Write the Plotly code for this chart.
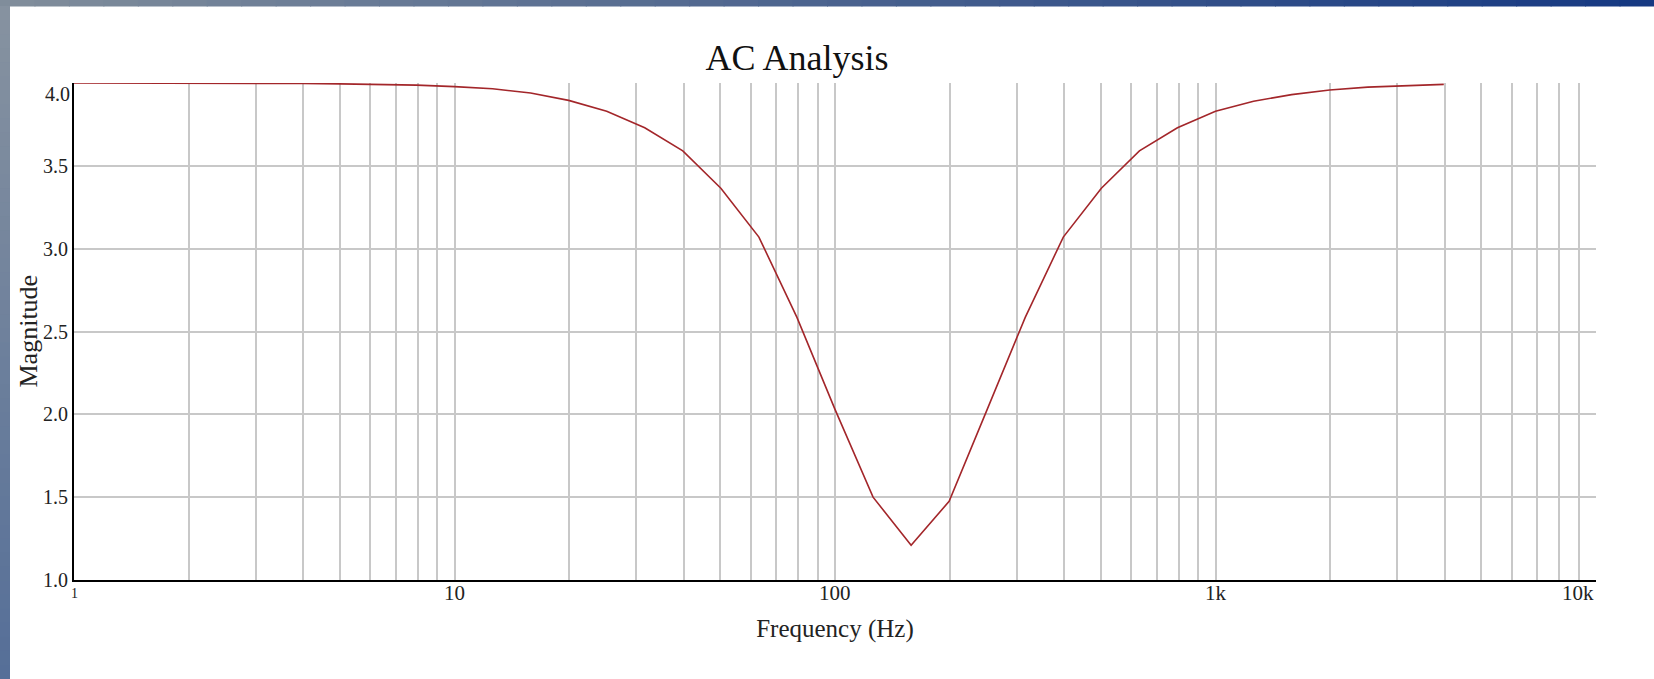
import math
import plotly.graph_objects as go

# ---------------- data ----------------
freq_hz = [1, 1.259, 1.585, 1.995, 2.512, 3.162, 3.981, 5.012, 6.310, 7.943,
           10, 12.59, 15.85, 19.95, 25.12, 31.62, 39.81, 50.12, 63.10, 79.43,
           100, 125.9, 158.5, 199.5, 251.2, 316.2, 398.1, 501.2, 631.0, 794.3,
           1000, 1259, 1585, 1995, 2512, 3162, 3981]
magnitude = [4.000, 4.000, 4.000, 3.999, 3.999, 3.998, 3.997, 3.995, 3.992, 3.987,
             3.978, 3.965, 3.940, 3.895, 3.830, 3.730, 3.590, 3.365, 3.070, 2.585,
             2.030, 1.500, 1.210, 1.475, 2.030, 2.585, 3.070, 3.365, 3.590, 3.730,
             3.830, 3.890, 3.930, 3.958, 3.975, 3.985, 3.992]

x_grid_vals = [2, 3, 4, 5, 6, 7, 8, 9,
               10, 20, 30, 40, 50, 60, 70, 80, 90,
               100, 200, 300, 400, 500, 600, 700, 800, 900,
               1000, 2000, 3000, 4000, 5000, 6000, 7000, 8000, 9000]
x_label_vals = [1, 10, 100, 1000, 10000]
x_label_text = ["1", "10", "100", "1k", "10k"]
y_tick_vals = [1.0, 1.5, 2.0, 2.5, 3.0, 3.5, 4.0]
y_tick_text = ["1.0", "1.5", "2.0", "2.5", "3.0", "3.5", ""]

title_text = "AC Analysis"
x_title = "Frequency (Hz)"
y_title = "Magnitude"

# ---------------- layout geometry ----------------
W, H = 1654, 679
ML, MR, MT, MB = 74, 58, 83, 99
PW, PH = W - ML - MR, H - MT - MB

def px_x(px):
    return (px - ML) / PW

def px_y(py):
    return (H - MB - py) / PH

SERIF = "Liberation Serif, Times New Roman, serif"
TXT = "#222"

fig = go.Figure()
fig.add_trace(go.Scatter(
    x=freq_hz, y=magnitude, mode="lines",
    line=dict(color="#a3262a", width=1.6),
    showlegend=False, hoverinfo="x+y",
))

# gradient frame (top strip and left strip)
shapes = []
def lerp(c1, c2, t):
    return "rgb(%d,%d,%d)" % tuple(round(a + (b - a) * t) for a, b in zip(c1, c2))

n = 48
top_left_c, top_right_c = (128, 141, 155), (22, 57, 130)
for i in range(n):
    x0 = W * i / n
    x1 = W * (i + 1) / n + 1
    shapes.append(dict(type="rect", xref="paper", yref="paper",
                       x0=px_x(x0), x1=px_x(x1), y0=px_y(0), y1=px_y(6.5),
                       fillcolor=lerp(top_left_c, top_right_c, i / (n - 1)),
                       line=dict(width=0), layer="above"))
left_top_c, left_bot_c = (134, 146, 160), (86, 111, 152)
for i in range(n):
    y0 = 6 + (H - 6) * i / n
    y1 = 6 + (H - 6) * (i + 1) / n + 1
    shapes.append(dict(type="rect", xref="paper", yref="paper",
                       x0=px_x(0), x1=px_x(10), y0=px_y(y0), y1=px_y(y1),
                       fillcolor=lerp(left_top_c, left_bot_c, i / (n - 1)),
                       line=dict(width=0), layer="above"))

annotations = [
    dict(text="4.0", xref="paper", yref="y", x=0, y=4.0, xanchor="right",
         yanchor="middle", xshift=-2, yshift=-11, showarrow=False,
         font=dict(family=SERIF, size=20, color=TXT)),
    dict(text=y_title, xref="paper", yref="paper", x=px_x(28), y=0.5,
         xanchor="center", yanchor="middle", textangle=-90, showarrow=False,
         font=dict(family=SERIF, size=26, color=TXT)),
]
for v, t in zip(x_label_vals, x_label_text):
    if v == 1:
        annotations.append(dict(text=t, xref="x", yref="paper", x=0, y=0,
                                xanchor="center", yanchor="top", yshift=-4,
                                showarrow=False,
                                font=dict(family=SERIF, size=14, color=TXT)))
    elif v == 10000:
        annotations.append(dict(text=t, xref="paper", yref="paper", x=1, y=0,
                                xanchor="right", yanchor="top", yshift=1,
                                showarrow=False,
                                font=dict(family=SERIF, size=21, color=TXT)))
    else:
        annotations.append(dict(text=t, xref="x", yref="paper", x=math.log10(v), y=0,
                                xanchor="center", yanchor="top", yshift=1,
                                showarrow=False,
                                font=dict(family=SERIF, size=21, color=TXT)))

fig.update_layout(
    width=W, height=H,
    margin=dict(l=ML, r=MR, t=MT, b=MB, pad=0),
    paper_bgcolor="white", plot_bgcolor="white",
    title=dict(text=title_text, x=px_x(797), xref="paper", xanchor="center",
               y=1 - 57 / H, yref="container", yanchor="middle",
               font=dict(family=SERIF, size=36, color="#111")),
    shapes=shapes,
    annotations=annotations,
    xaxis=dict(
        type="log", range=[0, 4],
        tickvals=x_grid_vals,
        showticklabels=False,
        showgrid=True, gridcolor="#c8c8c8", gridwidth=1.5,
        showline=True, linecolor="black", linewidth=2,
        ticks="", zeroline=False,
        title=dict(text=x_title, standoff=38,
                   font=dict(family=SERIF, size=25, color=TXT)),
        automargin=False,
    ),
    yaxis=dict(
        range=[1, 4],
        tickvals=y_tick_vals, ticktext=y_tick_text,
        showgrid=True, gridcolor="#c8c8c8", gridwidth=1.5,
        showline=True, linecolor="black", linewidth=2,
        ticks="", zeroline=False,
        tickfont=dict(family=SERIF, size=20, color=TXT),
        automargin=False,
    ),
)

fig.write_html("out.html")
